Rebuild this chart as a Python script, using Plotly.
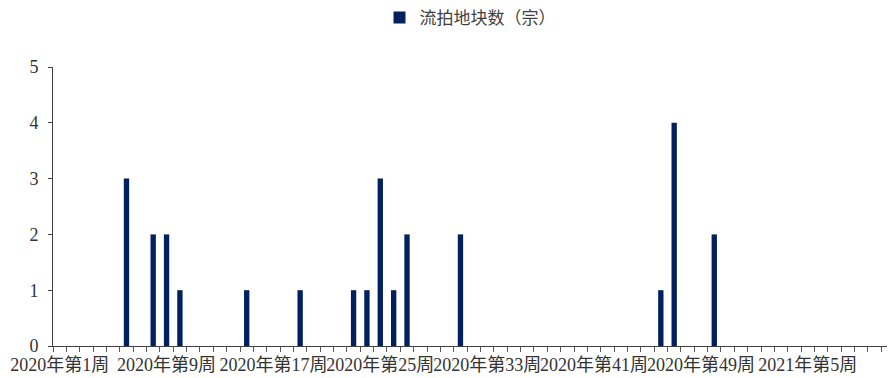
import plotly.graph_objects as go

# Categories: 2020 weeks 1-52, 2021 weeks 1-11
weeks_2020 = [f"2020年第{i}周" for i in range(1, 53)]
weeks_2021 = [f"2021年第{i}周" for i in range(1, 12)]
categories = weeks_2020 + weeks_2021

# Failed land auctions per week (only non-zero weeks listed)
nonzero_weeks = ["2020年第6周", "2020年第8周", "2020年第9周", "2020年第10周",
                 "2020年第15周", "2020年第19周", "2020年第23周", "2020年第24周",
                 "2020年第25周", "2020年第26周", "2020年第27周", "2020年第31周",
                 "2020年第46周", "2020年第47周", "2020年第50周"]
nonzero_values = [3, 2, 2, 1, 1, 1, 1, 1, 3, 1, 2, 2, 1, 4, 2]

lookup = dict(zip(nonzero_weeks, nonzero_values))
values = [lookup.get(c, 0) for c in categories]

label_every = 8
tick_text = [c if i % label_every == 0 else "" for i, c in enumerate(categories)]

series_name = "流拍地块数（宗）"
bar_color = "#002060"

fig = go.Figure()
fig.add_trace(go.Bar(
    x=categories, y=values, name=series_name,
    marker=dict(color=bar_color, line=dict(width=0)),
    width=0.4, showlegend=True,
))

font_family = "'Liberation Serif', 'Noto Sans CJK SC', serif"

fig.update_layout(
    width=888, height=378,
    margin=dict(l=53, r=1, t=66, b=32),
    paper_bgcolor="white", plot_bgcolor="white",
    font=dict(family=font_family, size=16, color="#333333"),
    showlegend=True,
    legend=dict(
        orientation="h", x=0.5, xanchor="center", y=1.172, yanchor="middle",
        font=dict(family="'Noto Sans CJK SC', sans-serif", size=17, color="#404040"),
        itemwidth=30,
    ),
)

fig.update_xaxes(
    type="category",
    categoryorder="array", categoryarray=categories,
    range=[-0.5, 61.93],
    tickmode="array", tickvals=categories, ticktext=tick_text,
    tickson="boundaries",
    ticks="outside", ticklen=5, tickcolor="#595959", tickwidth=1,
    showline=True, linecolor="#404040", linewidth=1,
    showgrid=False, zeroline=False,
    tickfont=dict(family=font_family, size=18, color="#333333"),
    tickangle=0,
    ticklabelstandoff=2,
)

fig.update_yaxes(
    range=[0, 5], dtick=1,
    ticks="outside", ticklen=4, tickcolor="#404040",
    showline=True, linecolor="#404040", linewidth=1,
    showgrid=False, zeroline=False,
    tickfont=dict(family=font_family, size=18, color="#333333"),
    ticklabelstandoff=6,
)

fig.write_html("out.html")
